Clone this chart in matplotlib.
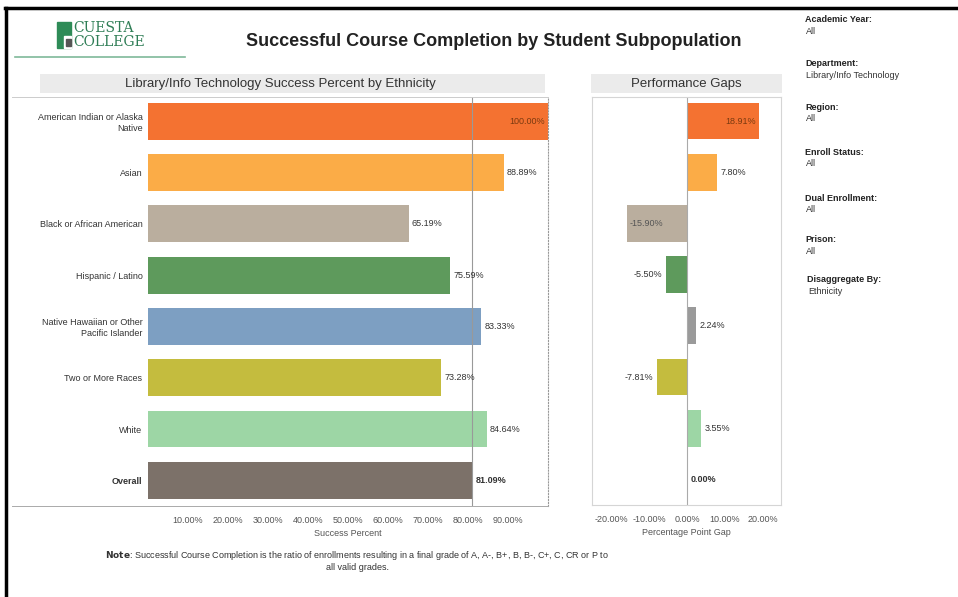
import matplotlib.pyplot as plt
from matplotlib.patches import Rectangle
from matplotlib.lines import Line2D

# data
groups = ["American Indian or Alaska\nNative", "Asian", "Black or African American",
          "Hispanic / Latino", "Native Hawaiian or Other\nPacific Islander",
          "Two or More Races", "White", "Overall"]
success = [100.00, 88.89, 65.19, 75.59, 83.33, 73.28, 84.64, 81.09]
gaps = [18.91, 7.80, -15.90, -5.50, 2.24, -7.81, 3.55, 0.00]
colors = ["#F47231", "#FBAC47", "#BAAE9E", "#5E9A5C", "#7D9FC2",
          "#C4BC3E", "#9DD6A5", "#7C7169"]
gap_colors = ["#F47231", "#FBAC47", "#BAAE9E", "#5E9A5C", "#9A9A9A",
              "#C4BC3E", "#9DD6A5", "#7C7169"]
overall = success[-1]

filters = [("Academic Year:", "All"), ("Department:", "Library/Info Technology"),
           ("Region:", "All"), ("Enroll Status:", "All"),
           ("Dual Enrollment:", "All"), ("Prison:", "All"),
           ("Disaggregate By:", "Ethnicity")]
filter_y = [20, 64, 108, 152, 199, 240, 280]

W, H = 958, 597
FS = 6.5  # small text size
fig = plt.figure(figsize=(W / 100, H / 100), dpi=100)
plt.rcParams['font.family'] = ['Liberation Sans', 'DejaVu Sans']


def fx(x):
    return x / W


def fy(y):
    return 1 - y / H


def box(x0, y0, x1, y1):
    return [fx(x0), fy(y1), fx(x1 - x0), (y1 - y0) / H]


# page frame
fig.add_artist(Line2D([fx(5), 1], [fy(8), fy(8)], color="black", lw=2.5))
fig.add_artist(Line2D([fx(6), fx(6)], [fy(8), 0], color="black", lw=2.5))

# logo (rough)
fig.add_artist(Rectangle((fx(57), fy(48)), fx(14), 26 / H, color="#2E8B57"))
fig.add_artist(Rectangle((fx(64), fy(48)), fx(7), 12 / H, color="white"))
fig.add_artist(Rectangle((fx(66), fy(46)), fx(5), 7 / H, color="#555555"))
fig.text(fx(73), fy(28), "CUESTA", family="DejaVu Serif", fontsize=10, color="#2E7D55", va="center")
fig.text(fx(73), fy(42), "COLLEGE", family="DejaVu Serif", fontsize=10, color="#2E7D55", va="center")
fig.add_artist(Line2D([fx(15), fx(185)], [fy(57), fy(57)], color="#7FB99A", lw=1.2))

# title
fig.text(fx(494), fy(42), "Successful Course Completion by Student Subpopulation",
         fontsize=13, fontweight="bold", ha="center", va="center", color="#222222")

# panel headers
fig.add_artist(Rectangle((fx(40), fy(93)), fx(505), 19 / H, color="#EBEBEB", lw=0))
fig.text(fx(280), fy(84), "Library/Info Technology Success Percent by Ethnicity",
         fontsize=9.5, ha="center", va="center", color="#333333")
fig.add_artist(Rectangle((fx(591), fy(93)), fx(191), 19 / H, color="#EBEBEB", lw=0))
fig.text(fx(686), fy(84), "Performance Gaps", fontsize=9.5, ha="center", va="center", color="#333333")

pos = list(range(len(groups)))

# left chart
ax1 = fig.add_axes(box(148, 97, 548, 506))
ax1.barh(pos, success, height=0.72, color=colors)
ax1.set_xlim(0, 100)
ax1.set_ylim(7.5, -0.47)
ax1.axvline(overall, color="#999999", lw=0.8)
for s in ["top", "left", "bottom"]:
    ax1.spines[s].set_visible(False)
ax1.spines["right"].set_linestyle(":")
ax1.spines["right"].set_color("#999999")
ax1.set_yticks(pos, groups, fontsize=FS, color="#333333")
ax1.get_yticklabels()[-1].set_fontweight("bold")
ax1.tick_params(axis="y", length=0, pad=4)
ax1.set_xticks(range(10, 100, 10), ["%d.00%%" % v for v in range(10, 100, 10)])
ax1.tick_params(axis="x", length=0, labelsize=FS, labelcolor="#555555", pad=7)
ax1.set_xlabel("Success Percent", fontsize=FS, color="#555555", labelpad=3)
for i, v in enumerate(success):
    bold = "bold" if i == len(success) - 1 else "normal"
    if v >= 99:
        ax1.text(v - 0.8, i, "%.2f%%" % v, fontsize=FS, ha="right", va="center", color="#7A3A10")
    else:
        ax1.text(v + 0.8, i, "%.2f%%" % v, fontsize=FS, ha="left", va="center",
                 color="#333333", fontweight=bold)

fig.add_artist(Line2D([fx(12), fx(548)], [fy(97), fy(97)], color="#CCCCCC", lw=0.7))
fig.add_artist(Line2D([fx(12), fx(548)], [fy(506), fy(506)], color="#AAAAAA", lw=0.7))

# right chart
ax2 = fig.add_axes(box(592, 97, 781, 505))
ax2.barh(pos, gaps, height=0.72, color=gap_colors)
ax2.set_xlim(-25, 24.7)
ax2.set_ylim(7.5, -0.47)
ax2.axvline(0, color="#AAAAAA", lw=0.8)
for s in ax2.spines.values():
    s.set_color("#D5D5D5")
    s.set_linewidth(0.8)
ax2.set_yticks([])
ax2.set_xticks(range(-20, 30, 10), ["%d.00%%" % v for v in range(-20, 30, 10)])
ax2.tick_params(axis="x", length=0, labelsize=FS, labelcolor="#555555", pad=7)
ax2.set_xlabel("Percentage Point Gap", fontsize=FS, color="#555555", labelpad=3)
for i, g in enumerate(gaps):
    txt = "%.2f%%" % g
    if i == len(gaps) - 1:
        ax2.text(1, i, txt, fontsize=FS, ha="left", va="center", color="#333333", fontweight="bold")
    elif g > 12:
        ax2.text(g - 0.8, i, txt, fontsize=FS, ha="right", va="center", color="#7A3A10")
    elif g < -12:
        ax2.text(g + 0.8, i, txt, fontsize=FS, ha="left", va="center", color="#555555")
    elif g >= 0:
        ax2.text(g + 1, i, txt, fontsize=FS, ha="left", va="center", color="#333333")
    else:
        ax2.text(g - 1, i, txt, fontsize=FS, ha="right", va="center", color="#333333")

# filters sidebar
for (lab, val), y in zip(filters, filter_y):
    x = 807 if lab.startswith("Disagg") else 805
    fig.text(fx(x), fy(y), lab, fontsize=FS, fontweight="bold", va="center", color="#222222")
    fig.text(fx(x + 1), fy(y + 11), val, fontsize=FS, va="center", color="#333333")

# note
fig.text(fx(357), fy(556), r"$\bf{Note}$: Successful Course Completion is the ratio of enrollments "
         "resulting in a final grade of A, A-, B+, B, B-, C+, C, CR or P to",
         fontsize=FS, ha="center", va="center", color="#333333")
fig.text(fx(357), fy(567), "all valid grades.", fontsize=FS, ha="center", va="center", color="#333333")

fig.savefig("out.png", dpi=100)
